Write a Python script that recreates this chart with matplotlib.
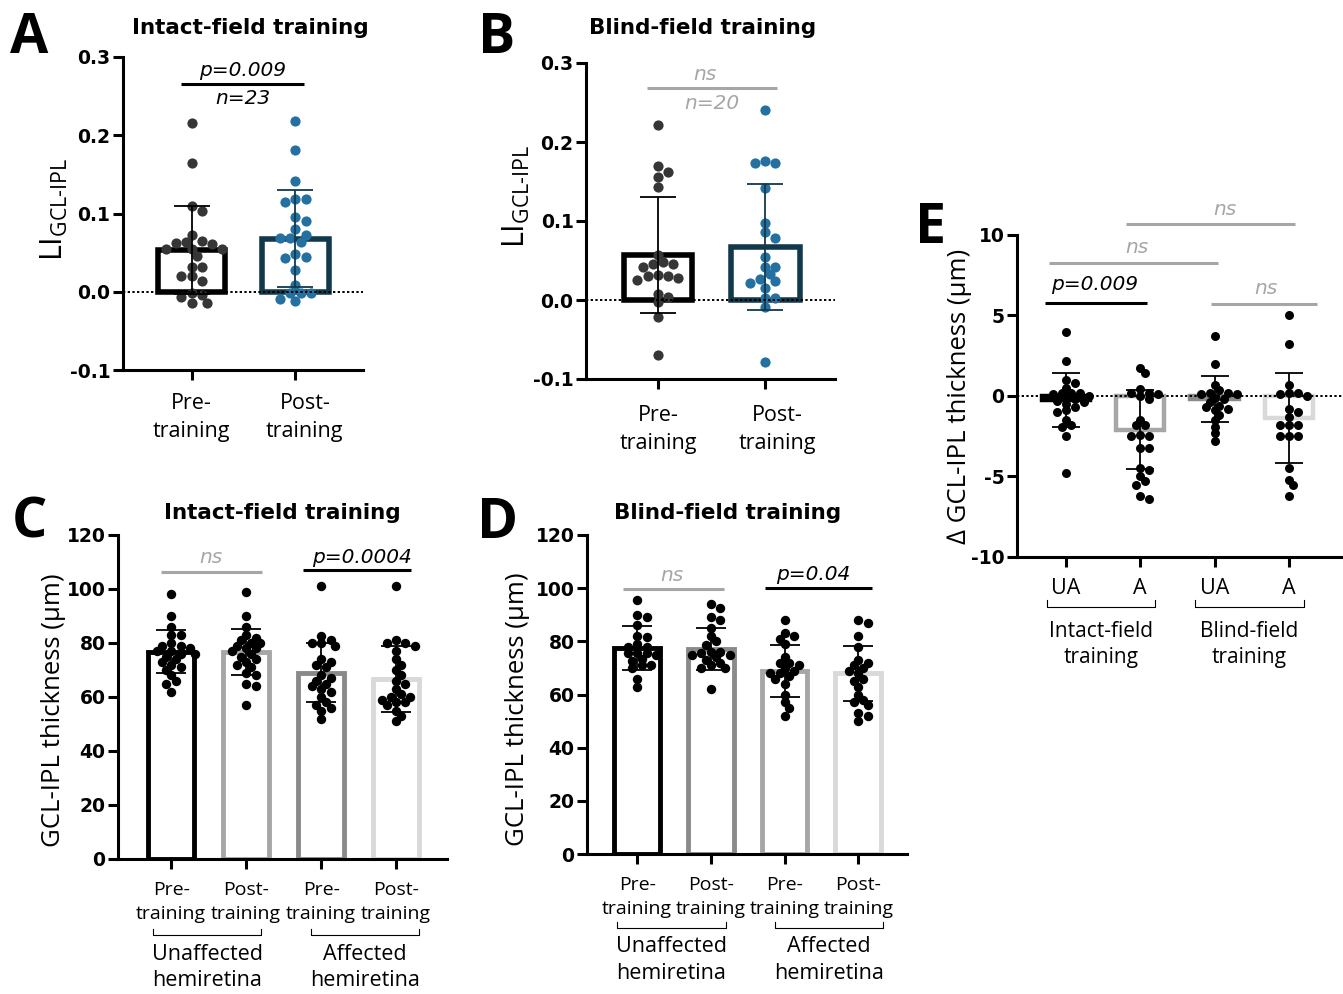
import numpy as np
import matplotlib
matplotlib.use('Agg')
import matplotlib.pyplot as plt
import matplotlib.transforms as mtransforms

plt.rcParams['font.family'] = 'DejaVu Sans'
plt.rcParams['mathtext.fontset'] = 'custom'
plt.rcParams['mathtext.rm'] = 'Open Sans'

# A - intact-field training, laterality index
a_pre = [0.216, 0.165, 0.109, 0.103, 0.064, 0.065, 0.073, 0.054, 0.054, 0.061, 0.062, 0.055,
         0.046, 0.031, 0.032, 0.020, 0.020, 0.014, -0.004, -0.002, -0.007, -0.014, -0.014]
a_post = [0.218, 0.181, 0.142, 0.118, 0.115, 0.118, 0.095, 0.090, 0.080, 0.069, 0.072, 0.069,
          0.063, 0.045, 0.043, 0.048, 0.028, 0.008, -0.009, -0.002, -0.002, -0.002, -0.012]
a_mean = [0.053, 0.068]
a_sd = [0.056, 0.062]

# B - blind-field training, laterality index
b_pre = [0.222, 0.169, 0.156, 0.162, 0.143, 0.057, 0.042, 0.028, 0.045, 0.031, 0.045, 0.031,
         0.048, 0.032, 0.025, 0.008, 0.004, -0.003, -0.021, -0.069]
b_post = [0.240, 0.176, 0.173, 0.173, 0.142, 0.098, 0.086, 0.079, 0.055, 0.042, 0.042, 0.027,
          0.024, 0.033, 0.015, 0.021, 0.003, 0.003, -0.009, -0.079]
b_mean = [0.057, 0.067]
b_sd = [0.074, 0.080]

ab_labels = ['Pre-\ntraining', 'Post-\ntraining']

# C - intact-field training, thickness (um)
c_vals = [
    [98, 90, 86, 83, 83, 80, 79, 79, 78, 77, 77, 76, 76, 75, 74, 73, 72, 71, 70, 68, 66, 65, 62],
    [99, 90, 86, 83, 82, 81, 80, 80, 79, 78, 78, 77, 76, 75, 74, 73, 72, 71, 69, 68, 65, 64, 57],
    [101, 82.5, 81, 80, 80, 79, 74, 73, 72, 71, 68, 67, 66, 65, 64, 63, 62, 60, 58, 57, 56, 55, 52],
    [101, 81, 80, 80, 79, 77, 74, 72, 70, 68, 66, 65, 63, 61, 60, 60, 59, 58, 58, 57, 55, 53, 51],
]
c_mean = [76.8, 76.6, 69.0, 66.8]
c_sd = [7.9, 8.6, 11.0, 12.2]

# D - blind-field training, thickness (um)
d_vals = [
    [95.5, 90, 89, 86, 82, 81.5, 79, 78, 78, 75.5, 75, 75.5, 75.5, 73.5, 72.5, 71, 71, 70, 66, 63],
    [94, 92.5, 89, 88, 85, 82, 80, 78.5, 76, 76, 75.5, 75, 75, 74, 73, 72, 71, 70, 70, 62],
    [88, 83, 82, 81, 79, 74, 72, 72, 71, 70, 69, 68, 68, 67, 66, 64, 60, 57, 55, 52],
    [88, 87, 82, 78, 73, 72, 71, 70, 69, 68, 66, 65, 63, 60, 58, 57, 56, 53, 52, 50],
]
d_mean = [77.4, 77.1, 68.8, 67.9]
d_sd = [8.3, 7.9, 9.7, 10.4]

cd_labels = ['Pre-\ntraining', 'Post-\ntraining', 'Pre-\ntraining', 'Post-\ntraining']
cd_groups = ['Unaffected\nhemiretina', 'Affected\nhemiretina']

# E - change in thickness (um)
e_vals = [
    [4.0, 2.2, 0.8, 1.0, 0.5, 0.2, 0.2, 0.2, 0.1, 0.0, -0.1, -0.2, -0.3, -0.4, -0.5, -0.7,
     -0.9, -1.0, -1.5, -1.8, -1.9, -2.5, -4.8],
    [1.75, 1.45, 0.45, 0.2, 0.2, 0.1, 0.0, -0.2, -1.5, -1.8, -1.8, -2.4, -2.5, -2.5, -3.2, -3.2,
     -4.5, -4.6, -5.0, -5.3, -5.5, -6.2, -6.4],
    [3.7, 2.0, 0.7, 0.4, 0.2, 0.2, 0.1, 0.1, -0.1, -0.2, -0.4, -0.6, -0.7, -0.8, -0.9, -1.2,
     -1.5, -1.9, -2.3, -2.8],
    [5.0, 3.2, 0.7, 0.2, 0.2, 0.1, 0.0, -0.8, -1.0, -1.3, -1.8, -1.8, -1.8, -2.5, -2.5, -2.5,
     -4.5, -5.2, -5.5, -6.2],
]
e_mean = [-0.25, -2.1, -0.2, -1.35]
e_sd = [1.65, 2.45, 1.42, 2.8]
e_labels = ['UA', 'A', 'UA', 'A']
e_groups = ['Intact-field\ntraining', 'Blind-field\ntraining']

BLACK = '#000000'
GRAY = '#a6a6a6'
DGRAY = '#8a8a8a'
LGRAY = '#d9d9d9'
DOT_DARK = '#363636'
DOT_BLUE = '#2470a1'
TEAL = '#12394b'

fig = plt.figure(figsize=(13.43, 9.94), dpi=100)
W, H = 1343, 994


def add_ax(l, r, t, b):
    return fig.add_axes([l / W, 1 - b / H, (r - l) / W, (b - t) / H])


def style(ax, xlim, ylim, yticks, ytl, n):
    ax.set_xlim(xlim)
    ax.set_ylim(ylim)
    for s in ['top', 'right']:
        ax.spines[s].set_visible(False)
    for s in ['left', 'bottom']:
        ax.spines[s].set_linewidth(2.2)
    ax.set_yticks(yticks)
    ax.set_yticklabels(ytl, fontsize=13.5, fontweight='bold')
    ax.set_xticks(range(n))
    ax.set_xticklabels([])
    ax.tick_params(width=2.2, length=7, pad=2)
    ax.axhline(0, color='black', lw=1.4, ls=(0, (1.2, 1.2)), zorder=5)


def swarm(ax, x0, ys, d, gap):
    ys = np.asarray(ys, float)
    pts = ax.transData.transform(np.column_stack([np.full(len(ys), x0), ys]))
    px0 = pts[0, 0]
    yp = pts[:, 1]
    placed = []
    xs = np.zeros(len(ys))
    inv = ax.transData.inverted()
    for i in np.argsort(-ys):
        for k in range(80):
            m = (k + 1) // 2
            dx = (1 if k % 2 else -1) * m * d / 2
            if all(np.hypot(dx - qx, yp[i] - qy) >= d * gap for qx, qy in placed):
                break
        placed.append((dx, yp[i]))
        xs[i] = inv.transform((px0 + dx, yp[i]))[0]
    return xs


def group(ax, pos, vals, mean, sd, ec, dotc, errc, width, ms, cap, lw=3.5, gap=0.8):
    ax.bar(pos, mean, width=width, facecolor='white', edgecolor=ec, linewidth=lw, zorder=2)
    d = np.sqrt(ms) / 72 * 100
    xs = swarm(ax, pos, vals, d, gap)
    ax.scatter(xs, vals, s=ms, color=dotc, linewidths=0, zorder=3)
    ax.errorbar(pos, mean, yerr=sd, fmt='none', ecolor=errc, elinewidth=1.3,
                capsize=cap, capthick=1.3, zorder=4)


def sig(ax, x0, x1, y, text, tx, ty, color):
    ax.plot([x0, x1], [y, y], color=color, lw=2.2, clip_on=False, solid_capstyle='butt')
    ax.text(tx, ty, text, color=color, fontsize=14.5, style='italic', ha='center', va='center')


def xlabels(ax, labels, ytop, fs, dx=None):
    tr = mtransforms.blended_transform_factory(ax.transData, ax.transAxes)
    for i, lab in enumerate(labels):
        off = dx[i] if dx else 0
        ax.text(i + off, ytop, lab, transform=tr, ha='center', va='top', fontsize=fs,
                family='Open Sans', linespacing=1.45)


def brackets(ax, spans, yb, h, names, ytop, fs):
    tr = mtransforms.blended_transform_factory(ax.transData, ax.transAxes)
    for (x0, x1), name in zip(spans, names):
        ax.plot([x0, x0, x1, x1], [yb + h, yb, yb, yb + h], color='black', lw=0.8,
                transform=tr, clip_on=False)
        ax.text((x0 + x1) / 2, ytop, name, transform=tr, ha='center', va='top', fontsize=fs,
                family='Open Sans', linespacing=1.35)


# ---- A
axA = add_ax(123, 363, 57, 370)
style(axA, (-0.66, 1.65), (-0.1, 0.3), [-0.1, 0, 0.1, 0.2, 0.3],
      ['-0.1', '0.0', '0.1', '0.2', '0.3'], 2)
group(axA, 0, a_pre, a_mean[0], a_sd[0], BLACK, DOT_DARK, BLACK, 0.64, 54, 13, lw=4, gap=0.85)
group(axA, 1, a_post, a_mean[1], a_sd[1], TEAL, DOT_BLUE, TEAL, 0.64, 54, 13, lw=4, gap=0.85)
sig(axA, -0.1, 1.08, 0.265, 'p=0.009', 0.49, 0.283, BLACK)
axA.text(0.49, 0.247, 'n=23', fontsize=14.5, style='italic', ha='center', va='center')
xlabels(axA, ab_labels, -0.072, 15.5, dx=[0, 0.09])
axA.text(-0.2875, 0.514, r'$\mathrm{LI}_{\mathrm{GCL\text{-}IPL}}$', transform=axA.transAxes,
         rotation=90, ha='center', va='center', fontsize=22)

# ---- B
axB = add_ax(586, 835, 63, 379)
style(axB, (-0.67, 1.65), (-0.1, 0.3), [-0.1, 0, 0.1, 0.2, 0.3],
      ['-0.1', '0.0', '0.1', '0.2', '0.3'], 2)
group(axB, 0, b_pre, b_mean[0], b_sd[0], BLACK, DOT_DARK, BLACK, 0.64, 54, 13, lw=4, gap=0.85)
group(axB, 1, b_post, b_mean[1], b_sd[1], TEAL, DOT_BLUE, TEAL, 0.64, 54, 13, lw=4, gap=0.85)
sig(axB, -0.1, 1.11, 0.268, 'ns', 0.44, 0.286, GRAY)
axB.text(0.50, 0.249, 'n=20', color=GRAY, fontsize=14.5, style='italic', ha='center', va='center')
xlabels(axB, ab_labels, -0.082, 15.5, dx=[0, 0.11])
axB.text(-0.281, 0.579, r'$\mathrm{LI}_{\mathrm{GCL\text{-}IPL}}$', transform=axB.transAxes,
         rotation=90, ha='center', va='center', fontsize=22)

# ---- C
axC = add_ax(118, 447, 535, 859)
style(axC, (-0.71, 3.68), (0, 120), range(0, 121, 20), [str(v) for v in range(0, 121, 20)], 4)
for i, col in enumerate([BLACK, GRAY, DGRAY, LGRAY]):
    group(axC, i, c_vals[i], c_mean[i], c_sd[i], col, BLACK, BLACK, 0.62, 46, 10.5, gap=0.7)
sig(axC, -0.13, 1.21, 106.3, 'ns', 0.53, 111.5, GRAY)
sig(axC, 1.76, 3.2, 107.0, 'p=0.0004', 2.54, 111.5, BLACK)
xlabels(axC, cd_labels, -0.068, 14)
brackets(axC, [(-0.24, 1.2), (1.87, 3.31)], -0.235, 0.02, cd_groups, -0.262, 15.5)
axC.text(-0.195, 0.46, 'GCL-IPL thickness (µm)', transform=axC.transAxes, rotation=90,
         ha='center', va='center', fontsize=18.5, family='Open Sans')

# ---- D
axD = add_ax(587, 907, 535, 854)
style(axD, (-0.68, 3.66), (0, 120), range(0, 121, 20), [str(v) for v in range(0, 121, 20)], 4)
for i, col in enumerate([BLACK, DGRAY, GRAY, LGRAY]):
    group(axD, i, d_vals[i], d_mean[i], d_sd[i], col, BLACK, BLACK, 0.62, 46, 10.5, gap=0.7)
sig(axD, -0.19, 1.18, 99.7, 'ns', 0.47, 104.8, GRAY)
sig(axD, 1.74, 3.19, 100.0, 'p=0.04', 2.39, 105.0, BLACK)
xlabels(axD, cd_labels, -0.068, 14)
brackets(axD, [(-0.27, 1.2), (1.87, 3.33)], -0.232, 0.02, cd_groups, -0.258, 15.5)
axD.text(-0.2175, 0.455, 'GCL-IPL thickness (µm)', transform=axD.transAxes, rotation=90,
         ha='center', va='center', fontsize=18.5, family='Open Sans')

# ---- E
axE = add_ax(1017, 1343, 235, 557)
style(axE, (-0.66, 3.73), (-10, 10), [-10, -5, 0, 5, 10], ['-10', '-5', '0', '5', '10'], 4)
for i, col in enumerate([BLACK, GRAY, DGRAY, LGRAY]):
    group(axE, i, e_vals[i], e_mean[i], e_sd[i], col, BLACK, BLACK, 0.65, 42, 10, lw=3.2, gap=0.7)
sig(axE, -0.28, 1.09, 5.77, 'p=0.009', 0.39, 6.9, BLACK)
sig(axE, -0.23, 2.05, 8.26, 'ns', 0.95, 9.2, GRAY)
sig(axE, 0.81, 3.08, 10.7, 'ns', 2.14, 11.6, GRAY)
sig(axE, 1.95, 3.38, 5.73, 'ns', 2.69, 6.7, GRAY)
xlabels(axE, e_labels, -0.065, 15.5)
brackets(axE, [(-0.26, 1.2), (1.74, 3.2)], -0.155, 0.02, e_groups, -0.198, 15)
axE.text(-0.175, 0.5, '∆ GCL-IPL thickness (µm)', transform=axE.transAxes, rotation=90,
         ha='center', va='center', fontsize=18.5, family='Open Sans')

# titles and panel letters
for txt, x, y in [('Intact-field training', 250, 28), ('Blind-field training', 703, 28),
                  ('Intact-field training', 282, 513), ('Blind-field training', 728, 513)]:
    fig.text(x / W, 1 - y / H, txt, ha='center', va='center', fontsize=15.5, fontweight='bold')
for letter, x, y in [('A', 10, 53), ('B', 478, 53), ('C', 12, 538), ('D', 477, 538), ('E', 915, 243)]:
    fig.text(x / W, 1 - y / H, letter, ha='left', va='baseline', fontsize=40,
             fontweight='bold', family='Open Sans')

fig.savefig('out.png', dpi=100)
